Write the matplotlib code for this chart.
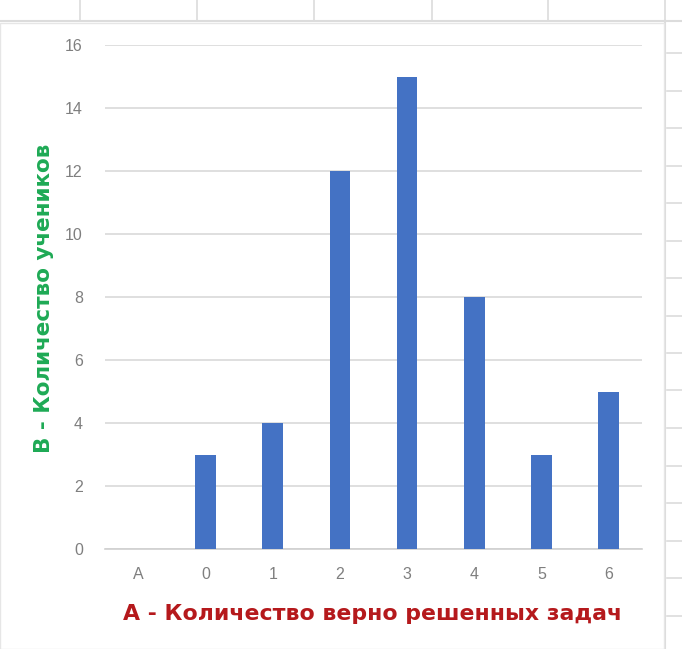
import numpy as np
import matplotlib.pyplot as plt
from matplotlib.patches import Rectangle
from matplotlib.lines import Line2D

# ============================================================
# DATA
# ============================================================
categories = ["A", "0", "1", "2", "3", "4", "5", "6"]
counts     = [0, 3, 4, 12, 15, 8, 3, 5]
y_ticks    = [0, 2, 4, 6, 8, 10, 12, 14, 16]

x_title = "А - Количество верно решенных задач"
y_title = "В - Количество учеников"

# ============================================================
# FIGURE
# ============================================================
W, H = 682, 649
fig = plt.figure(figsize=(W / 100, H / 100), dpi=100)
fig.patch.set_facecolor("white")


def fx(px):
    return px / W


def fy(py):
    return 1 - py / H


# spreadsheet cells behind the chart
cell_col = "#dcdcdc"
for xc in [80, 197, 314, 432, 548, 665]:
    fig.add_artist(Line2D([fx(xc), fx(xc)], [fy(0), fy(21)], color=cell_col, lw=1.2, zorder=-2))
fig.add_artist(Line2D([0, 1], [fy(21), fy(21)], color=cell_col, lw=1.5, zorder=-2))
fig.add_artist(Line2D([fx(665), fx(665)], [fy(21), 0], color=cell_col, lw=1.5, zorder=-2))
for yr in np.arange(53, H, 37.5):
    fig.add_artist(Line2D([fx(667), 1], [fy(yr), fy(yr)], color=cell_col, lw=1.2, zorder=-2))

# chart area
fig.add_artist(Rectangle((0, 0), fx(664), fy(23), transform=fig.transFigure,
                         facecolor="white", edgecolor="#e6e6e6", lw=1.0, zorder=-1))

# ============================================================
# PLOT
# ============================================================
ax = fig.add_axes([fx(105), fy(549), fx(642) - fx(105), fy(45) - fy(549)])
ax.set_zorder(1)
x = np.arange(len(categories))
ax.bar(x, counts, width=0.31, color="#4472c4", zorder=3)

ax.set_xlim(-0.5, len(categories) - 0.5)
ax.set_ylim(0, 16)
ax.set_yticks(y_ticks)
ax.set_xticks(x)
ax.set_xticklabels(categories)
ax.grid(axis="y", color="#d9d9d9", lw=1.2, zorder=0)
ax.set_facecolor("none")
for s in ["top", "right", "left"]:
    ax.spines[s].set_visible(False)
ax.spines["bottom"].set_color("#d0d0d0")
ax.spines["bottom"].set_linewidth(1.2)
ax.tick_params(axis="both", length=0, labelsize=11.5, labelcolor="#7f7f7f")
ax.tick_params(axis="y", pad=16)
ax.tick_params(axis="x", pad=13)
for lab in ax.get_xticklabels() + ax.get_yticklabels():
    lab.set_family("Liberation Sans")

fig.text(fx(373), fy(614), x_title, ha="center", va="center",
         fontsize=15.8, fontweight="bold", color="#b5191c", family="DejaVu Sans")
fig.text(fx(44), fy(298), y_title, ha="center", va="center", rotation=90,
         fontsize=15.5, fontweight="bold", color="#1eaa55", family="DejaVu Sans")

plt.savefig("out.png", dpi=100)
